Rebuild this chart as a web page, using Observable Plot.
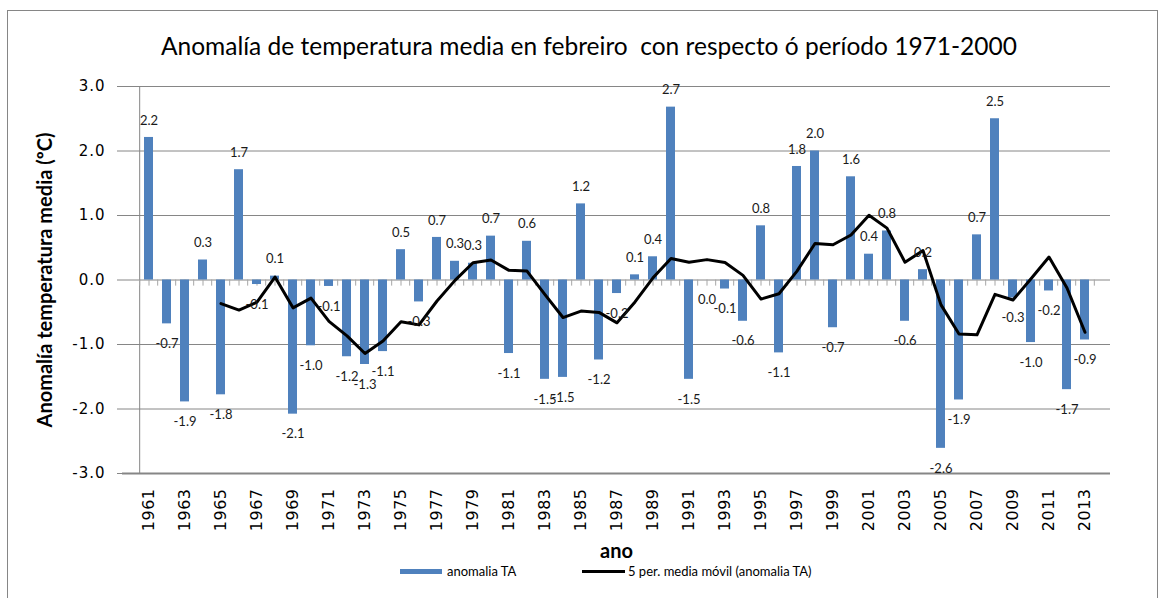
<!DOCTYPE html>
<html>
<head>
<meta charset="utf-8">
<script src="https://cdn.jsdelivr.net/npm/d3@7"></script>
<script src="https://cdn.jsdelivr.net/npm/@observablehq/plot@0.6"></script>
<style>
  html, body { margin: 0; padding: 0; background: #fff; }
  #wrap { position: relative; width: 1170px; height: 598px; overflow: hidden; background: #fff; }
  #frame { position: absolute; left: 7px; top: 10px; width: 1151px; height: 600px; border: 1px solid #868686; box-sizing: border-box; }
  #title { position: absolute; left: 4px; top: 29px; width: 1170px; text-align: center; font-family: Lato, sans-serif; font-size: 24.5px; color: #000; line-height: 34px; }
  #chart { position: absolute; left: 0; top: 70px; }
  #legend { position: absolute; left: 0; top: 562px; width: 1170px; height: 24px; font-family: Lato, sans-serif; font-size: 13px; color: #000; }
  .sw { position: absolute; }
  .lt { position: absolute; line-height: 16px; }
  #chart svg [aria-label="y-axis tick label"] text { font-family: "DejaVu Sans", sans-serif !important; font-size: 15px !important; letter-spacing: 1px; fill: #000; }
  #chart svg [aria-label="x-axis tick label"] text { font-family: "DejaVu Sans", sans-serif !important; font-size: 16px !important; letter-spacing: 0.5px; fill: #000; }
  #chart svg [aria-label="y-axis label"] text { font-family: Lato, sans-serif; font-weight: bold; font-size: 20px !important; fill: #000; }
  #chart svg [aria-label="x-axis label"] text { font-family: Lato, sans-serif; font-weight: bold; font-size: 20px !important; fill: #000; }
</style>
</head>
<body>
<div id="wrap">
  <div id="frame"></div>
  <div id="title">Anomalía de temperatura media en febreiro&nbsp; con respecto ó período 1971-2000</div>
  <div id="chart"></div>
  <div id="legend">
    <div class="sw" style="left:400px; top:7px; width:42px; height:5px; background:#4f81bd;"></div>
    <div class="lt" style="left:447px; top:1px;">anomalia TA</div>
    <div class="sw" style="left:582px; top:8px; width:43px; height:3px; background:#000;"></div>
    <div class="lt" style="left:628px; top:1px;">5 per. media móvil (anomalia TA)</div>
  </div>
</div>
<script>
const years = [1961, 1962, 1963, 1964, 1965, 1966, 1967, 1968, 1969, 1970,
  1971, 1972, 1973, 1974, 1975, 1976, 1977, 1978, 1979, 1980,
  1981, 1982, 1983, 1984, 1985, 1986, 1987, 1988, 1989, 1990,
  1991, 1992, 1993, 1994, 1995, 1996, 1997, 1998, 1999, 2000,
  2001, 2002, 2003, 2004, 2005, 2006, 2007, 2008, 2009, 2010,
  2011, 2012, 2013];
const anomalies = [2.21, -0.68, -1.89, 0.31, -1.78, 1.71, -0.07, 0.06, -2.08, -1.02,
  -0.10, -1.19, -1.31, -1.11, 0.47, -0.34, 0.66, 0.29, 0.26, 0.68,
  -1.14, 0.60, -1.54, -1.51, 1.18, -1.24, -0.21, 0.08, 0.36, 2.68,
  -1.54, 0.00, -0.14, -0.64, 0.84, -1.13, 1.76, 2.00, -0.74, 1.60,
  0.40, 0.76, -0.64, 0.16, -2.61, -1.86, 0.70, 2.50, -0.28, -0.97,
  -0.17, -1.70, -0.93];
const tickYears = [1961, 1963, 1965, 1967, 1969, 1971, 1973, 1975, 1977, 1979,
  1981, 1983, 1985, 1987, 1989, 1991, 1993, 1995, 1997, 1999,
  2001, 2003, 2005, 2007, 2009, 2011, 2013];
const yTicks = [-3, -2, -1, 0, 1, 2, 3];

const data = years.map((year, i) => ({year, value: anomalies[i]}));
const fmt = v => v.toFixed(1);
const half = (1170 - 122 - 60) / years.length / 2;

const chart = Plot.plot({
  width: 1170,
  height: 490,
  marginTop: 16,
  marginLeft: 122,
  marginRight: 60,
  marginBottom: 87,
  style: {fontFamily: "Lato, sans-serif", background: "transparent", overflow: "visible"},
  x: {type: "band", domain: years, padding: 0.5},
  y: {domain: [-3, 3]},
  marks: [
    Plot.ruleY(yTicks.filter(t => t !== -3), {y: d => d, stroke: "#868686", strokeWidth: 1}),
    Plot.ruleY([-3], {y: d => d, stroke: "#868686", strokeWidth: 2}),
    Plot.ruleX([years[0]], {x: d => d, dx: -half, stroke: "#868686"}),
    Plot.ruleX(years, {x: d => d, y1: 0, y2: -0.095, dx: -half, stroke: "#a6a6a6"}),
    Plot.ruleX(years, {x: d => d, y1: 0, y2: -0.095, stroke: "#a6a6a6"}),
    Plot.ruleX([years[years.length - 1]], {x: d => d, y1: 0, y2: -0.095, dx: half, stroke: "#a6a6a6"}),
    Plot.barY(data, {x: "year", y: "value", fill: "#4f81bd"}),
    Plot.lineY(data, Plot.windowY({k: 5, anchor: "end", strict: true}, {x: "year", y: "value", stroke: "#000", strokeWidth: 3, strokeLinejoin: "round"})),
    Plot.text(data.filter(d => d.value > 0), {x: "year", y: "value", text: d => fmt(d.value), dy: -17, fontSize: 13, fontFamily: "Lato, sans-serif", fill: "#1a1a1a"}),
    Plot.text(data.filter(d => d.value <= 0), {x: "year", y: "value", text: d => fmt(d.value), dy: 20, fontSize: 13, fontFamily: "Lato, sans-serif", fill: "#1a1a1a"}),
    Plot.axisY({ticks: yTicks, tickFormat: fmt, tickSize: 5, tickPadding: 12, stroke: "#868686", fontSize: 15,
      label: "Anomalía temperatura media (ºC)", labelAnchor: "center", labelOffset: 85, labelArrow: "none"}),
    Plot.axisX({ticks: tickYears, tickFormat: d => String(d), tickSize: 0, tickRotate: -90, tickPadding: 15, fontSize: 16,
      label: "ano", labelAnchor: "center", labelOffset: 84, labelArrow: "none"})
  ]
});
document.getElementById("chart").appendChild(chart);
</script>
</body>
</html>
